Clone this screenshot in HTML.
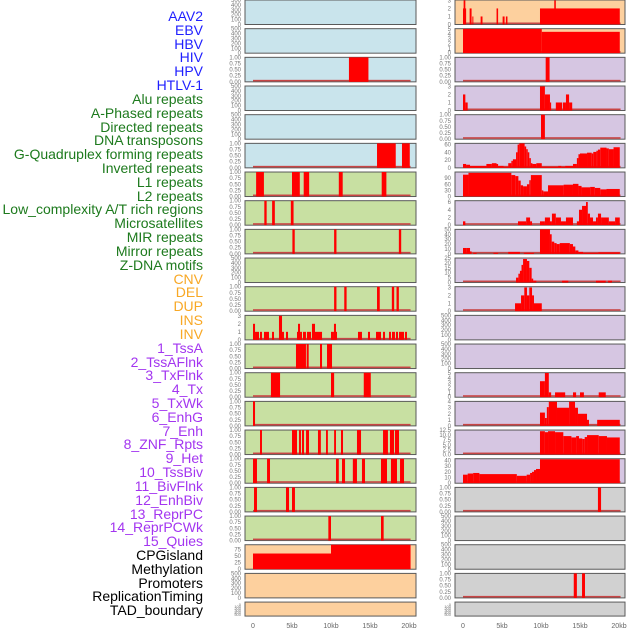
<!DOCTYPE html>
<html><head><meta charset="utf-8"><style>
html,body{margin:0;padding:0;background:#fff;}
#wrap{position:relative;width:630px;height:630px;overflow:hidden;font-family:"Liberation Sans",sans-serif;}
.lab{position:absolute;right:427px;font-size:14px;line-height:14px;white-space:nowrap;text-align:right;}
</style></head><body>
<div id="wrap">
<svg id="svg" width="630" height="630" style="position:absolute;left:0;top:0"></svg>
</div>
<script>
const trackLabels = ["AAV2","EBV","HBV","HIV","HPV","HTLV-1","Alu repeats","A-Phased repeats","Directed repeats","DNA transposons","G-Quadruplex forming repeats","Inverted repeats","L1 repeats","L2 repeats","Low_complexity A/T rich regions","Microsatellites","MIR repeats","Mirror repeats","Z-DNA motifs","CNV","DEL","DUP","INS","INV","1_TssA","2_TssAFlnk","3_TxFlnk","4_Tx","5_TxWk","6_EnhG","7_Enh","8_ZNF_Rpts","9_Het","10_TssBiv","11_BivFlnk","12_EnhBiv","13_ReprPC","14_ReprPCWk","15_Quies","CPGisland","Methylation","Promoters","ReplicationTiming","TAD_boundary"];
const labelGroups = ["v","v","v","v","v","v","r","r","r","r","r","r","r","r","r","r","r","r","r","c","c","c","c","c","h","h","h","h","h","h","h","h","h","h","h","h","h","h","h","o","o","o","o","o"];
const xTicks = [0,5,10,15,20];
const xTickLabels = ["0","5kb","10kb","15kb","20kb"];
const B = [0,0.25,0.5,0.75,1], BL=["0.00","0.25","0.50","0.75","1.00"];
const E = [0,100,200,300,400,500];
const leftPanels = [
 ["b",500,E,null,[]],
 ["b",500,E,null,[]],
 ["b",1,B,BL,[[12.3,14.8,1]]],
 ["b",500,E,null,[]],
 ["b",500,E,null,[]],
 ["b",1,B,BL,[[15.9,18.3,1],[19.1,20.1,1]]],
 ["g",1,B,BL,[[0.4,1.4,1],[5.0,6.0,1],[6.5,7.2,1],[11.0,11.5,1],[16.5,17.1,1]]],
 ["g",1,B,BL,[[1.45,1.75,1],[2.45,2.8,1],[4.85,5.2,1]]],
 ["g",1,B,BL,[[5.05,5.35,1],[10.4,10.7,1],[18.7,19.0,1]]],
 ["g",500,E,null,[]],
 ["g",1,B,BL,[[10.4,10.7,1],[11.7,12.0,1],[15.9,16.25,1],[17.8,18.1,1],[18.4,18.7,1]]],
 ["g",3.05,[0,1,2,3],null,[[0,0.26,2],[0.26,0.77,1],[0.9,1.15,1],[1.41,2.05,1],[2.44,2.69,1],[3.33,3.72,3],[3.72,3.97,1],[4.23,4.49,1],[5.64,5.77,1],[5.77,6.03,2],[6.03,6.28,1],[6.41,6.79,1],[6.92,7.44,1],[7.56,7.95,2],[7.95,8.85,1],[10.0,10.38,1],[10.38,10.64,2],[10.64,10.77,1],[13.46,13.97,1],[14.74,15.0,1],[15.77,16.41,1],[16.67,16.92,1],[17.44,17.69,1],[17.82,18.2,1],[18.33,18.59,1],[18.72,19.36,1],[19.49,19.74,1]]],
 ["g",1,B,BL,[[5.51,6.79,1],[6.88,7.14,1],[8.59,8.85,1],[9.49,10.13,1]]],
 ["g",1,B,BL,[[2.3,3.47,1],[10.0,10.4,1],[14.2,15.1,1]]],
 ["g",1,B,BL,[[0,0.26,1]]],
 ["g",1,B,BL,[[0.9,1.15,1],[5.0,5.64,1],[5.9,6.15,1],[6.28,6.54,1],[6.8,7.18,1],[8.33,8.7,1],[9.36,9.6,1],[10.4,10.64,1],[11.28,11.54,1],[13.33,13.85,1],[16.67,17.3,1],[17.56,18.08,1],[18.2,18.72,1]]],
 ["g",1,B,BL,[[0,0.51,1],[1.8,2.18,1],[10.64,11.0,1],[11.41,11.8,1],[12.8,13.33,1],[13.97,14.36,1],[16.41,17.18,1],[17.69,18.46,1],[18.85,19.36,1]]],
 ["g",1,B,BL,[[0.13,0.51,1],[4.23,4.62,1],[5.0,5.38,1]]],
 ["g",1,B,BL,[[9.66,10.0,1],[16.41,16.75,1]]],
 ["o",92,[0,25,50,75],null,[[0,10,59],[10,20.2,92]]],
 ["o",500,E,null,[]],
 ["o",500,E,null,[]]
];
const rightPanels = [
 ["o",3.05,[0,1,2,3],null,[[0.08,0.3,3],[0.0,0.4,2],[0.85,1.1,2],[1.2,1.3,1],[2.26,2.5,1],[4.3,4.5,2],[5.08,5.33,1],[5.5,5.7,1],[9.87,20.1,2],[11.7,11.9,3]]],
 ["o",5.05,[0,1,2,3,4,5],null,[[0,10.1,5],[10.1,20.1,4.4]]],
 ["p",1,B,BL,[[10.6,11.1,1]]],
 ["p",3.05,[0,1,2,3],null,[[0,0.3,2],[0.3,0.6,1],[9.87,10.5,3],[10.5,11.15,2],[11.15,11.3,1],[11.9,12.7,1],[12.8,13.2,1],[13.2,13.6,2],[13.6,14.0,1]]],
 ["p",1,B,BL,[[10.0,10.5,1]]],
 ["p",63,[0,20,40,60],null,[[0,0.4,10],[0.4,0.9,8],[0.9,3.0,5],[3.0,3.7,10],[3.7,4.3,12],[4.3,4.5,10],[4.5,5.2,5],[5.2,5.8,3],[5.8,6.2,12],[6.2,6.4,18],[6.4,6.8,22],[6.8,7.0,40],[7.0,7.2,60],[7.2,7.9,63],[7.9,8.1,55],[8.1,8.3,48],[8.3,8.5,40],[8.5,8.7,25],[8.7,8.9,12],[8.9,9.4,10],[9.4,10.1,12],[10.1,12.2,3],[12.2,12.6,5],[12.6,13.1,3],[13.1,14.1,5],[14.1,14.6,10],[14.6,14.8,25],[14.8,15.0,35],[15.0,15.9,37],[15.9,16.5,39],[16.5,16.7,37],[16.7,17.1,41],[17.1,17.3,44],[17.3,17.6,47],[17.6,18.4,52],[18.4,18.7,50],[18.7,19.3,48],[19.3,20.1,53]]],
 ["p",120,[0,30,60,90],null,[[0,0.7,107],[0.7,6.2,116],[6.2,6.7,105],[6.7,7.1,100],[7.1,7.4,78],[7.4,7.7,55],[7.7,8.2,50],[8.2,8.5,60],[8.5,8.7,80],[8.7,10.1,105],[10.1,10.3,30],[10.3,10.9,25],[10.9,12.9,55],[12.9,14.1,58],[14.1,14.8,62],[14.8,15.2,52],[15.2,16.3,45],[16.3,16.9,47],[16.9,17.6,42],[17.6,18.4,35],[18.4,20.1,37]]],
 ["p",6.35,[0,2,4,6],null,[[0,0.3,1],[7.05,8.1,1],[8.1,8.6,2],[8.6,8.85,1],[9.87,10.5,1],[10.5,11.15,2],[11.15,11.4,1],[11.4,11.9,3],[11.9,12.56,2],[12.56,13.2,1],[13.2,14.1,2],[14.6,14.87,1],[14.87,15.26,4],[15.26,15.77,5],[15.77,16.0,6],[16.0,16.28,3],[16.28,16.67,2],[16.67,17.05,1],[17.05,17.3,2],[17.3,17.7,3],[17.7,18.7,2],[18.7,19.5,1],[19.5,20.1,2]]],
 ["p",50,[0,10,20,30,40,50],null,[[0,0.47,12],[0.47,0.9,12],[0.9,1.1,5],[1.3,1.75,2],[3.9,4.5,2],[5.8,7.3,4],[7.8,9.1,2],[9.87,11.15,50],[11.15,11.37,40],[11.37,11.7,25],[11.7,12.0,22],[12.0,12.4,20],[12.4,13.7,22],[13.7,14.1,20],[14.1,14.4,15],[14.4,14.8,7],[14.8,15.4,4],[15.4,17.35,2],[17.35,20.1,3]]],
 ["p",25,[0,5,10,15,20,25],null,[[6.8,7.1,5],[7.1,7.3,9],[7.3,7.5,12],[7.5,7.7,18],[7.7,8.2,24],[8.2,8.5,22],[8.5,8.8,15],[8.8,9.0,4],[9.0,9.4,2],[12.7,13.5,2],[17.05,18.3,2],[18.6,19.1,2]]],
 ["p",3.1,[0,1,2,3],null,[[6.67,7.44,1],[7.44,7.86,2],[7.86,8.2,3],[8.2,8.5,2],[8.5,8.85,3],[8.85,9.1,2],[9.1,10.1,1]]],
 ["p",500,E,null,[]],
 ["p",500,E,null,[]],
 ["p",5.05,[0,1,2,3,4,5],null,[[9.87,10.5,3.3],[10.5,11.0,5],[11.0,11.3,1],[11.8,13.1,1],[14.1,14.5,1],[15.0,15.5,1],[17.4,18.3,1]]],
 ["p",4.05,[0,1,2,3,4],null,[[9.87,10.5,2.2],[10.5,10.75,1.3],[10.75,11.0,3.1],[11.0,12.05,4],[12.05,13.6,3],[13.6,14.36,4],[14.36,14.74,3],[14.74,15.9,2],[15.9,16.15,1],[17.2,20.1,1]]],
 ["p",12.6,[0,2.5,5,7.5,10,12.5],["0.0","2.5","5.0","7.5","10.0","12.5"],[[9.87,10.5,12],[10.5,10.9,11.5],[10.9,11.8,12],[11.8,12.86,11.5],[12.86,13.9,9.5],[13.9,14.5,8.8],[14.5,14.87,9.5],[14.87,15.3,8.3],[15.3,15.6,8.0],[15.6,15.9,9.0],[15.9,17.4,10],[17.4,18.46,9.5],[18.46,20.1,8.8]]],
 ["p",43,[0,10,20,30,40],null,[[0,0.6,15],[0.6,1.3,17],[1.3,2.1,18],[2.1,6.9,16],[6.9,8.16,13],[8.16,8.6,15],[8.6,8.85,18],[8.85,9.1,20],[9.1,9.36,23],[9.36,9.87,25],[9.87,20.1,42]]],
 ["k",1,B,BL,[[17.3,17.7,1]]],
 ["k",500,E,null,[]],
 ["k",500,E,null,[]],
 ["k",1,B,BL,[[14.2,14.6,1],[15.26,15.64,1]]],
 ["k",500,E,null,[]]
];
const bgColors={b:"#c9e4ec",g:"#c8e0a2",o:"#fdd09e",p:"#d6c6e2",k:"#d1d1d1"};
const labColors={v:"#1f1fff",r:"#1d7a1d",c:"#f8a825",h:"#a335f0",o:"#000"};
const NS="http://www.w3.org/2000/svg";
const svg=document.getElementById('svg');
function mk(t,a){const e=document.createElementNS(NS,t);for(const k in a)e.setAttribute(k,a[k]);return e;}
const cols=[{x0:245,x1:416,zero:253},{x0:455,x1:625,zero:463}];
const pxPerKb=7.8;
function rowTop(i){return i*28.67;}
function rowH(i){return i===21?14:24.5;}
function drawCol(panels,c,ci){
 panels.forEach((p,i)=>{
  const top=rowTop(i),h=rowH(i),bot=top+h;
  const xs=k=>c.zero+k*pxPerKb;
  const ys=v=>bot-v/p[1]*h;
  const g=mk('g',{});
  
  
  const r=mk('rect',{x:c.x0,y:top,width:c.x1-c.x0,height:h,fill:bgColors[p[0]],stroke:"#5a5a5a","stroke-width":1});
  
  
  g.appendChild(r);
  if(p[4].length){
   const bl=mk('rect',{x:xs(0),y:bot-2,width:xs(20.2)-xs(0),height:1.6,fill:"#c84545"});
   
   
   g.appendChild(bl);
  }
  p[4].forEach(s=>{
   const y=ys(s[2]);
   const b=mk('rect',{x:xs(s[0]),y:Math.max(top,y),width:Math.max(1,xs(s[1])-xs(s[0])),height:bot-Math.max(top,y),fill:"#ff0000"});
   
   
   g.appendChild(b);
  });
  const fs=i===21?4:6;
  p[2].forEach((t,j)=>{
   const lbl=p[3]?p[3][j]:String(t);
   const y=i===21?top+2+j*2:ys(t);
   const tx=mk('text',{x:c.x0-4,y:y+2,"font-size":fs,fill:"#777","text-anchor":"end","font-family":"Liberation Sans, sans-serif"});
   tx.textContent=lbl;
   
   
   g.appendChild(tx);
  });
  svg.appendChild(g);
 });
 xTicks.forEach((t,j)=>{
  const tx=mk('text',{x:c.zero+t*pxPerKb,y:628,"font-size":7,fill:"#666","text-anchor":"middle","font-family":"Liberation Sans, sans-serif"});
  tx.textContent=xTickLabels[j];
  
  
  svg.appendChild(tx);
 });
}
drawCol(leftPanels,cols[0],0);
drawCol(rightPanels,cols[1],1);
const wrap=document.getElementById('wrap');
trackLabels.forEach((t,i)=>{
 const d=document.createElement('div');
 d.className='lab';
 d.style.top=(9+i*13.82)+'px';
 d.style.color=labColors[labelGroups[i]];
 d.textContent=t;
 
 
 wrap.appendChild(d);
});
</script>
</body></html>
